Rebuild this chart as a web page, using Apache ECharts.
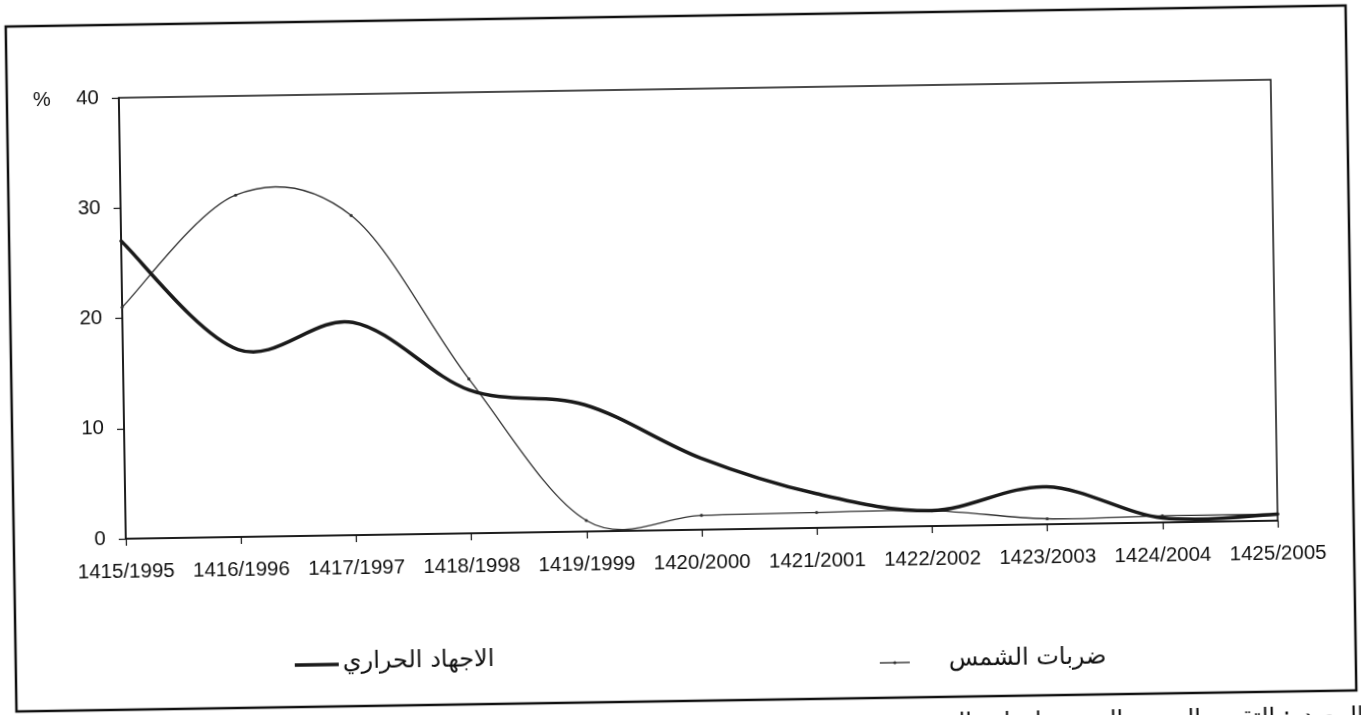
<!DOCTYPE html>
<html>
<head>
<meta charset="utf-8">
<script src="https://cdn.jsdelivr.net/npm/echarts@6/dist/echarts.min.js"></script>
<style>
  html, body { margin: 0; padding: 0; background: #fff; overflow: hidden; width: 1361px; height: 715px; }
  /* the printed page sits slightly askew */
  #page { position: absolute; left: 0; top: 0; width: 1361px; height: 740px;
          transform: rotate(-0.9deg); transform-origin: 680.5px 357.5px; background: #fff; }
</style>
</head>
<body>
<div id="page"></div>
<script>
// Hijri / Gregorian years
const years = ['1415/1995', '1416/1996', '1417/1997', '1418/1998', '1419/1999', '1420/2000',
               '1421/2001', '1422/2002', '1423/2003', '1424/2004', '1425/2005'];

// share of cases, %
const heatStress = [27, 17, 19.3, 13, 11.5, 6.5, 3.1, 1.4, 3.4, 0.4, 0.6];   // الاجهاد الحراري
const sunStroke  = [21, 31, 29, 14, 1.0, 1.3, 1.4, 1.4, 0.5, 0.6, 0.6];       // ضربات الشمس

const seriesNames = ['الاجهاد الحراري', 'ضربات الشمس'];
const yMin = 0, yMax = 40, yStep = 10;
const sourceNote = 'المصدر: التقرير الصحي السنوي لوزارة الصحة';

const latin = 'Liberation Sans, Arial, sans-serif';
const arabic = 'DejaVu Sans, sans-serif';
const ink = '#111';

// Catmull-Rom curve through the projected points, written as cubic Bezier segments
function curvePath(pts) {
  let d = 'M' + pts[0][0] + ',' + pts[0][1];
  for (let i = 0; i < pts.length - 1; i++) {
    const p0 = pts[i - 1] || pts[i];
    const p1 = pts[i];
    const p2 = pts[i + 1];
    const p3 = pts[i + 2] || pts[i + 1];
    const c1x = p1[0] + (p2[0] - p0[0]) / 6, c1y = p1[1] + (p2[1] - p0[1]) / 6;
    const c2x = p2[0] - (p3[0] - p1[0]) / 6, c2y = p2[1] - (p3[1] - p1[1]) / 6;
    d += ' C' + c1x + ',' + c1y + ' ' + c2x + ',' + c2y + ' ' + p2[0] + ',' + p2[1];
  }
  return d;
}

// one custom series draws a whole smoothed line from its value array
function smoothSeries(name, values, color, width, dotRadius, z) {
  return {
    name: name,
    type: 'custom',
    coordinateSystem: 'cartesian2d',
    data: [[0, values[0]]],
    z: z,
    clip: false,
    renderItem: function (params, api) {
      const pts = values.map(function (v, i) { return api.coord([i, v]); });
      const children = [{
        type: 'path',
        shape: { pathData: curvePath(pts) },
        style: { stroke: color, fill: 'none', lineWidth: width, lineJoin: 'round', lineCap: 'round' }
      }];
      if (dotRadius > 0) {
        pts.forEach(function (p) {
          children.push({ type: 'circle', shape: { cx: p[0], cy: p[1], r: dotRadius }, style: { fill: color } });
        });
      }
      return { type: 'group', children: children };
    }
  };
}

const chart = echarts.init(document.getElementById('page'), null, { renderer: 'canvas' });

chart.setOption({
  backgroundColor: '#fff',
  animation: false,
  grid: {
    left: 123, right: 86, top: 89, bottom: 210,
    show: true, borderColor: ink, borderWidth: 1.5, backgroundColor: 'transparent'
  },
  xAxis: {
    type: 'category',
    data: years,
    boundaryGap: false,
    axisLine: { lineStyle: { color: ink, width: 1.5 } },
    axisTick: { show: true, length: 7, lineStyle: { color: ink, width: 1.2 } },
    axisLabel: { color: ink, fontFamily: latin, fontSize: 20.5, margin: 23, interval: 0 },
    splitLine: { show: false }
  },
  yAxis: {
    type: 'value',
    min: yMin, max: yMax, interval: yStep,
    axisLine: { show: true, lineStyle: { color: ink, width: 1.5 } },
    axisTick: { show: true, length: 7, lineStyle: { color: ink, width: 1.2 } },
    axisLabel: { color: ink, fontFamily: latin, fontSize: 20.5, margin: 20 },
    splitLine: { show: false }
  },
  series: [
    smoothSeries(seriesNames[1], sunStroke, '#333', 1.3, 1.6, 2),
    smoothSeries(seriesNames[0], heatStress, '#1a1a1a', 3.5, 0, 3)
  ],
  graphic: [
    {
      type: 'rect',
      shape: { x: 11, y: 16, width: 1340, height: 685 },
      style: { fill: 'none', stroke: ink, lineWidth: 2.5 },
      silent: true
    },
    {
      type: 'text',
      x: 46, y: 90,
      style: { text: '%', fill: ink, fontFamily: latin, fontSize: 20, align: 'center', verticalAlign: 'middle' },
      silent: true
    },
    // key: heat stress
    {
      type: 'line',
      shape: { x1: 290, y1: 659, x2: 334, y2: 659 },
      style: { stroke: '#1a1a1a', lineWidth: 3.5 },
      silent: true
    },
    {
      type: 'text',
      x: 338, y: 657,
      style: { text: seriesNames[0], fill: ink, fontFamily: arabic, fontSize: 24, align: 'left', verticalAlign: 'middle' },
      silent: true
    },
    // key: sun stroke
    {
      type: 'line',
      shape: { x1: 875, y1: 666, x2: 905, y2: 666 },
      style: { stroke: '#333', lineWidth: 1.4 },
      silent: true
    },
    {
      type: 'circle',
      shape: { cx: 890, cy: 666, r: 1.6 },
      style: { fill: '#333' },
      silent: true
    },
    {
      type: 'text',
      x: 944, y: 664,
      style: { text: seriesNames[1], fill: ink, fontFamily: arabic, fontSize: 24, align: 'left', verticalAlign: 'middle' },
      silent: true
    },
    {
      type: 'text',
      x: 1358, y: 716,
      style: { text: sourceNote, fill: ink, fontFamily: arabic, fontSize: 24, align: 'right', verticalAlign: 'top' },
      silent: true
    }
  ]
});
</script>
</body>
</html>
